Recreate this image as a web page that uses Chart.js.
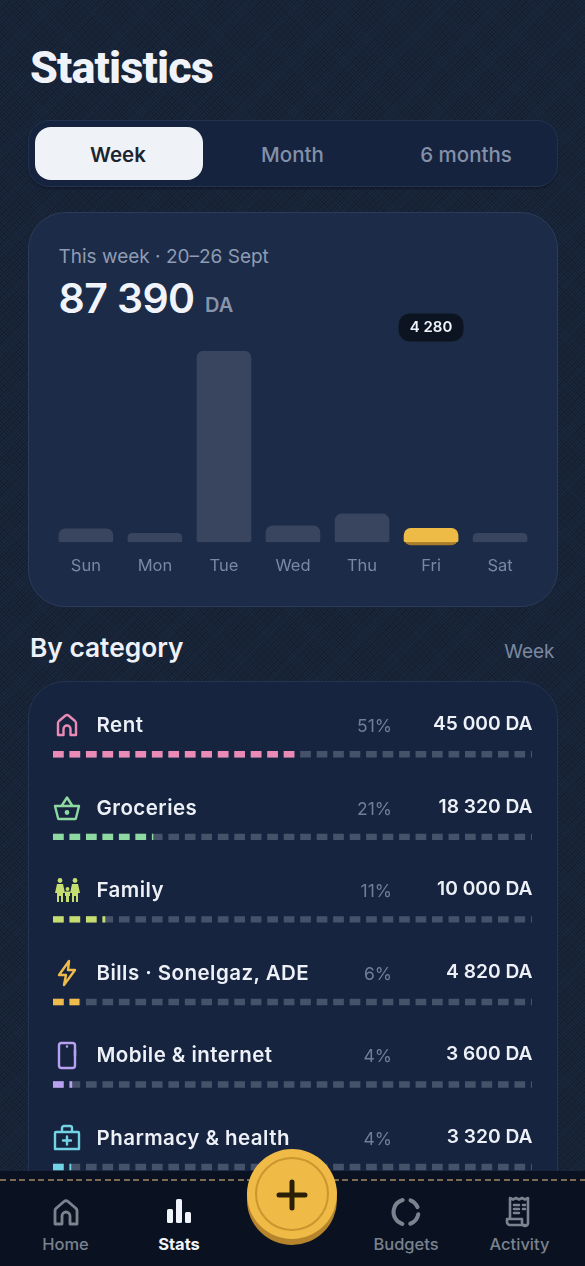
<!DOCTYPE html>
<html>
<head>
<meta charset="utf-8">
<title>Statistics</title>
<script src="https://cdn.jsdelivr.net/npm/chart.js@4"></script>
<style>
    * { box-sizing: border-box; }
    html, body { margin: 0; padding: 0; }
    body {
        width: 585px; height: 1266px; overflow: hidden; position: relative;
        font-family: Inter, sans-serif; color: #eef2f8;
        background-color: #1a273d;
        background-image:
            repeating-linear-gradient(135deg, rgba(0,0,0,0.16) 0 1px, transparent 1px 2.5px),
            repeating-linear-gradient(45deg, rgba(0,0,0,0.10) 0 1px, transparent 1px 2.5px);
    }
    .abs { position: absolute; white-space: nowrap; line-height: 1; }
    .mid { transform: translateY(-50%); }
    #title { left: 30px; top: 67px; font: 800 45px Roboto, sans-serif; letter-spacing: -0.9px; color: #f0f4fa; }
    #segment { left: 27.5px; top: 120px; width: 530px; height: 67px; border-radius: 21px; background: #16233f; border: 1px solid #23324e; box-shadow: 0 2px 2px rgba(0,0,0,0.25); }
    #segmentOn { left: 34.5px; top: 127px; width: 168px; height: 53px; border-radius: 16px; background: #eff3f8; }
    .seg { top: 155px; font-size: 20.5px; font-weight: 500; color: #8390a8; transform: translate(-50%, -50%); }
    #card1 { left: 27.5px; top: 211.5px; width: 530px; height: 395px; border-radius: 37px; background: #1b2b48; border: 1.5px solid #2b3b59; }
    #range { left: 58.5px; top: 256px; font-size: 19px; color: #8f9cb3; }
    #total { left: 58.5px; top: 298px; font-size: 41px; font-weight: 600; letter-spacing: -0.6px; color: #f0f4fa; }
    #unit { left: 205px; top: 305px; font-size: 20px; font-weight: 600; color: #8794ab; }
    #weekWrap { position: absolute; left: 27.5px; top: 310px; width: 530px; height: 280px; }
    #byCat { left: 30px; top: 648px; font-size: 26.3px; font-weight: 600; color: #eef2f8; }
    #byRange { right: 30.5px; top: 650.5px; font-size: 19px; color: #7b88a0; }
    #card2 { left: 27.5px; top: 681px; width: 530px; height: 640px; border-radius: 37px; background: #17243f; border: 1.5px solid #25344f; }
    #catWrap { position: absolute; left: 52.7px; top: 713px; width: 479.7px; height: 495.3px; }
    .name { left: 96.5px; font-size: 20.5px; font-weight: 600; letter-spacing: 0.45px; color: #edf1f7; }
    .pct { right: 193px; font-size: 17.5px; color: #717e96; }
    .amt { right: 52.5px; font-size: 19.2px; font-weight: 600; color: #edf1f7; }
    .icon { position: absolute; width: 30px; height: 30px; fill: none; stroke-width: 2.4; stroke-linecap: round; stroke-linejoin: round; }
    #nav { position: absolute; left: 0; top: 1171px; width: 585px; height: 95px; background: #0a1120; }
    #stitch { position: absolute; left: 0; top: 8px; width: 585px; height: 1.5px; background: repeating-linear-gradient(90deg, #7d6a52 0 6px, transparent 6px 9.500px); }
    .navLabel { top: 1244px; font-size: 16.5px; font-weight: 500; color: #79828f; transform: translate(-50%, -50%); }
    .navIcon { position: absolute; width: 32px; height: 32px; fill: none; stroke: #7b838f; stroke-width: 2.8; stroke-linecap: round; stroke-linejoin: round; }
    #fabLip { position: absolute; left: 247px; top: 1155px; width: 90px; height: 90px; border-radius: 50%; background: #b5842c; }
    #fab { position: absolute; left: 247px; top: 1149px; width: 90px; height: 90px; border-radius: 50%; background: #efba45; }
    #fabRing { position: absolute; left: 255px; top: 1157px; width: 74px; height: 74px; border-radius: 50%; border: 2px solid #c9962f; }
</style>
</head>
<body>
    <div class="abs mid" id="title">Statistics</div>

    <div class="abs" id="segment"></div>
    <div class="abs" id="segmentOn"></div>
    <div class="abs seg" style="left:118px;color:#1c2430;font-weight:600">Week</div>
    <div class="abs seg" style="left:292.5px">Month</div>
    <div class="abs seg" style="left:466px">6 months</div>

    <div class="abs" id="card1"></div>
    <div class="abs mid" id="range">This week · 20–26 Sept</div>
    <div class="abs mid" id="total">87 390</div>
    <div class="abs mid" id="unit">DA</div>
    <div id="weekWrap"><canvas id="weekChart"></canvas></div>

    <div class="abs mid" id="byCat">By category</div>
    <div class="abs mid" id="byRange">Week</div>
    <div class="abs" id="card2"></div>
    <div id="catWrap"><canvas id="catChart"></canvas></div>
    <div id="rows"></div>

    <div id="nav"><div id="stitch"></div></div>
    <div class="abs navLabel" style="left:65.5px">Home</div>
    <div class="abs navLabel" style="left:179px;color:#f0f4fa;font-weight:700">Stats</div>
    <div class="abs navLabel" style="left:406px">Budgets</div>
    <div class="abs navLabel" style="left:519.5px">Activity</div>

    <svg class="navIcon" style="left:50px;top:1197px" viewBox="0 0 32 32"><path d="M5 27V13.500Q5 12 6.500 11L14 4.500Q16 3 18 4.500L25.500 11Q27 12 27 13.500V27h-7V19a4 4 0 0 0-8 0v8z"/></svg>
    <svg class="navIcon" style="left:163px;top:1197px;fill:#f0f4fa;stroke:none" viewBox="0 0 32 32"><rect x="4" y="12" width="6" height="14" rx="1.500"/><rect x="13" y="2" width="6" height="24" rx="1.500"/><rect x="22" y="15" width="6" height="11" rx="1.500"/></svg>
    <svg class="navIcon" style="left:390px;top:1196px;stroke-width:4" viewBox="0 0 32 32"><circle cx="16" cy="16" r="12.500" transform="rotate(10 16 16)" stroke-dasharray="13 8 32 8 10 8"/></svg>
    <svg class="navIcon" style="left:503px;top:1196px;stroke-width:2.6" viewBox="0 0 32 32"><path d="M7 22V2l3 1.500L13 2l3 1.500L19 2l3 1.500L25 2v25a3 3 0 0 1-6 0v-4H4v3a3 3 0 0 0 3 3h15"/><path d="M11 9h5M11 13h5M11 17h5M20 9h2M20 13h2"/></svg>

    <div id="fabLip"></div>
    <div id="fab"></div>
    <div id="fabRing"></div>
    <svg style="position:absolute;left:276px;top:1179px;width:32px;height:32px" viewBox="0 0 32 32"><path d="M3 16h26M16 3v26" fill="none" stroke="#2c1f08" stroke-width="5" stroke-linecap="round"/></svg>

<script>
const weekDays = ['Sun', 'Mon', 'Tue', 'Wed', 'Thu', 'Fri', 'Sat'];
const weekValues = [4170, 2780, 59480, 5100, 8800, 4280, 2780];
const highlightDay = 5;
const highlightLabel = '4 280';

const categories = ['Rent', 'Groceries', 'Family', 'Bills · Sonelgaz, ADE', 'Mobile & internet', 'Pharmacy & health'];
const categoryShares = [51.5, 20.9, 10.9, 5.5, 4.0, 3.8];
const categoryPercents = ['51%', '21%', '11%', '6%', '4%', '4%'];
const categoryAmounts = ['45 000 DA', '18 320 DA', '10 000 DA', '4 820 DA', '3 600 DA', '3 320 DA'];
const categoryColors = ['#e98bb6', '#8ed9a1', '#c6dd6f', '#efbb4a', '#b8a1f1', '#72d3e4'];

const categoryIcons = [
    '<path d="M6 25V13Q6 12 7 11L13.500 5.500Q15 4.500 16.500 5.500L23 11Q24 12 24 13V25h-5.500v-6a3.500 3.500 0 0 0-7 0v6z"/>',
    '<path d="M3 13h24l-3 12a1 1 0 0 1-1 1H7a1 1 0 0 1-1-1zM9.500 13L15 4.500l5.500 8.500"/><circle cx="15" cy="19.500" r="1.200"/>',
    '<g stroke="none" fill="currentColor"><circle cx="8" cy="5.500" r="2.400"/><path d="M5 9h6l2 9h-2v9H9v-6H7v6H5v-9H3z"/><circle cx="23" cy="5.500" r="2.400"/><path d="M20 9h6l2 9h-2v9h-2v-6h-2v6h-2v-9h-2z"/><circle cx="15.500" cy="14" r="1.900"/><path d="M13 16.500h5v4.500h-1v6h-3v-6h-1z"/></g>',
    '<path d="M17 3L7 17h7l-2 10 11-15h-7z"/>',
    '<rect x="7" y="3" width="16" height="25" rx="2.500"/><path d="M15 6.500h.01M23 10v6"/>',
    '<path d="M4 9h22a1 1 0 0 1 1 1v16H3V10a1 1 0 0 1 1-1zM10 9V5a2 2 0 0 1 2-2h6a2 2 0 0 1 2 2v4M15 13.500v8M11 17.500h8"/>'
];

const rowCenters = [725, 807.5, 890, 972.5, 1055, 1137.5];

// rows of text next to the dashed bars
function buildRows() {
    const rows = document.getElementById('rows');
    categories.forEach((name, i) => {
        const y = rowCenters[i];
        rows.innerHTML += `
            <svg class="icon" viewBox="0 0 30 30" style="left:51.5px;top:${y - 15}px;stroke:${categoryColors[i]};color:${categoryColors[i]}">${categoryIcons[i]}</svg>
            <div class="abs mid name" style="top:${y}px">${name}</div>
            <div class="abs mid pct" style="top:${y + 1}px">${categoryPercents[i]}</div>
            <div class="abs mid amt" style="top:${y - 1}px">${categoryAmounts[i]}</div>`;
    });
}

// darker edge under the highlighted bar and the little value pill above it
const highlightPlugin = {
    id: 'highlight',
    beforeDatasetsDraw(chart) {
        const bar = chart.getDatasetMeta(0).data[highlightDay];
        const ctx = chart.ctx;
        ctx.save();
        ctx.fillStyle = '#a97c2b';
        ctx.beginPath();
        ctx.roundRect(bar.x - bar.width / 2, bar.y + 3, bar.width, bar.base - bar.y, 7);
        ctx.fill();
        ctx.restore();
    },
    afterDraw(chart) {
        const bar = chart.getDatasetMeta(0).data[highlightDay];
        const ctx = chart.ctx;
        ctx.save();
        ctx.fillStyle = '#0c1421';
        ctx.strokeStyle = '#1f2c42';
        ctx.beginPath();
        ctx.roundRect(bar.x - 33, 3, 66, 29, 12);
        ctx.fill();
        ctx.stroke();
        ctx.fillStyle = '#f0f4fa';
        ctx.font = '600 15px Inter, sans-serif';
        ctx.textAlign = 'center';
        ctx.textBaseline = 'middle';
        ctx.fillText(highlightLabel, bar.x, 17.5);
        ctx.restore();
    }
};

function initWeekChart() {
    new Chart(document.getElementById('weekChart'), {
        type: 'bar',
        data: {
            labels: weekDays,
            datasets: [{
                data: weekValues,
                backgroundColor: weekDays.map((d, i) => i === highlightDay ? '#efbb47' : '#39455f'),
                barThickness: 54,
                borderRadius: { topLeft: 7, topRight: 7, bottomLeft: 2, bottomRight: 2 },
                borderSkipped: false
            }]
        },
        options: {
            responsive: true,
            maintainAspectRatio: false,
            animation: false,
            layout: { padding: { left: 23.4, right: 23.4, top: 41, bottom: 0 } },
            plugins: { legend: { display: false }, tooltip: { enabled: false } },
            scales: {
                x: {
                    grid: { display: false, drawTicks: false },
                    border: { display: false },
                    ticks: { color: '#7a88a1', padding: 14, font: { family: 'Inter', size: 16.5 } }
                },
                y: { display: false, min: 0, max: Math.max(...weekValues) }
            }
        },
        plugins: [highlightPlugin]
    });
}

// dashed progress lines, one track and one coloured part per category
function initCategoryChart() {
    const dash = [10.7, 5.78];
    const tracks = categories.map(name => ({
        data: [{ x: 0, y: name }, { x: 100, y: name }],
        borderColor: '#45526a', borderWidth: 6.4, borderDash: dash, pointRadius: 0, order: 2
    }));
    const fills = categories.map((name, i) => ({
        data: [{ x: 0, y: name }, { x: categoryShares[i], y: name }],
        borderColor: categoryColors[i], borderWidth: 6.4, borderDash: dash, pointRadius: 0, order: 1
    }));
    new Chart(document.getElementById('catChart'), {
        type: 'line',
        data: { labels: categories, datasets: tracks.concat(fills) },
        options: {
            responsive: true,
            maintainAspectRatio: false,
            animation: false,
            layout: { autoPadding: false },
            plugins: { legend: { display: false }, tooltip: { enabled: false } },
            scales: {
                x: { type: 'linear', display: false, min: 0, max: 100 },
                y: { type: 'category', display: false, offset: true }
            }
        }
    });
}

document.addEventListener('DOMContentLoaded', () => {
    buildRows();
    initWeekChart();
    initCategoryChart();
});
</script>
</body>
</html>
